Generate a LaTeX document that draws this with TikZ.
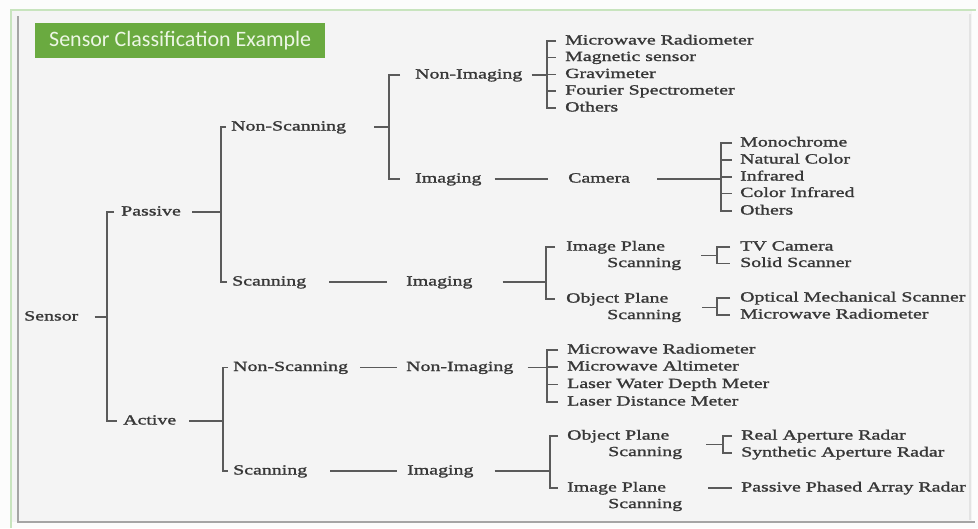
\documentclass[tikz,border=0pt]{standalone}
\usepackage{fontspec}
\setmainfont{Liberation Serif}[FakeStretch=1.42, FakeBold=1.4]
\newfontfamily\titlefont{Carlito}
\definecolor{ink}{RGB}{55,55,55}
\definecolor{wire}{RGB}{90,90,90}
\definecolor{pagebg}{RGB}{252,252,252}
\definecolor{panelbg}{RGB}{244,244,244}
\definecolor{framegreen}{RGB}{200,228,190}
\definecolor{shadowgray}{RGB}{165,165,165}
\definecolor{titlegreen}{RGB}{106,170,64}
\definecolor{titleink}{RGB}{236,246,228}
\begin{document}
\begin{tikzpicture}[x=1pt, y=-1pt,
  lbl/.style={anchor=west, inner sep=0pt, text=ink,
    font=\fontsize{14}{16.5}\selectfont, text height=9.5pt, text depth=2.5pt},
  lbltwo/.style={anchor=west, inner sep=0pt, text=ink,
    font=\fontsize{14}{16.5}\selectfont, align=left},
  conn/.style={draw=wire, line width=1.2pt},
  titlebox/.style={fill=titlegreen, text=titleink, anchor=north west,
    minimum width=290pt, minimum height=35pt, inner sep=0pt,
    font=\titlefont\fontsize{22}{24}\selectfont}]

% page, panel and frame
\useasboundingbox (0,0) rectangle (978,528);
\fill[pagebg] (0,0) rectangle (978,528);
\fill[panelbg] (12,10) rectangle (972,522);
\draw[framegreen, line width=1.2pt] (11,528) -- (11,10) -- (976,10);
\draw[shadowgray, line width=2pt] (18,16) -- (18,522) -- (975,522);
\draw[gray!22, line width=1.5pt] (970,14) -- (970,520);

% title
\node[titlebox] (title) at (35,23) {Sensor Classification Example};

% level 0 and 1
\node[lbl] (sensor)  at (24,317) {Sensor};
\node[lbl] (passive) at (121,212) {Passive};
\node[lbl] (active)  at (123,421) {Active};

% passive branch
\node[lbl] (pns) at (231,127) {Non-Scanning};
\node[lbl] (ps)  at (232,282) {Scanning};
\node[lbl] (pni) at (415,75) {Non-Imaging};
\node[lbl] (pim) at (415,179) {Imaging};
\node[lbl] (camera) at (568,179) {Camera};
\node[lbl] (nl1) at (565,41)   {Microwave Radiometer};
\node[lbl] (nl2) at (565,57.5) {Magnetic sensor};
\node[lbl] (nl3) at (565,74.5) {Gravimeter};
\node[lbl] (nl4) at (565,91)   {Fourier Spectrometer};
\node[lbl] (nl5) at (565,108)  {Others};
\node[lbl] (cl1) at (740,143) {Monochrome};
\node[lbl] (cl2) at (740,160) {Natural Color};
\node[lbl] (cl3) at (740,177) {Infrared};
\node[lbl] (cl4) at (740,193.5) {Color Infrared};
\node[lbl] (cl5) at (740,211) {Others};
\node[lbl] (psim) at (406,282) {Imaging};
\node[lbltwo] (ips) at (566,255.5) {Image Plane\\\hspace*{41pt}Scanning};
\node[lbltwo] (ops) at (566,307.5) {Object Plane\\\hspace*{41pt}Scanning};
\node[lbl] (tv)    at (740,247) {TV Camera};
\node[lbl] (solid) at (740,263.5) {Solid Scanner};
\node[lbl] (oms)   at (740,298) {Optical Mechanical Scanner};
\node[lbl] (mwr)   at (740,315) {Microwave Radiometer};

% active branch
\node[lbl] (ans) at (233,367.5) {Non-Scanning};
\node[lbl] (as)  at (233,471) {Scanning};
\node[lbl] (ani) at (406,367.5) {Non-Imaging};
\node[lbl] (aim) at (407,471) {Imaging};
\node[lbl] (al1) at (567,350) {Microwave Radiometer};
\node[lbl] (al2) at (567,367) {Microwave Altimeter};
\node[lbl] (al3) at (567,384.5) {Laser Water Depth Meter};
\node[lbl] (al4) at (567,402) {Laser Distance Meter};
\node[lbltwo] (aop) at (567,444.5) {Object Plane\\\hspace*{41pt}Scanning};
\node[lbltwo] (aip) at (567,496.5) {Image Plane\\\hspace*{41pt}Scanning};
\node[lbl] (rar)  at (741,436) {Real Aperture Radar};
\node[lbl] (sar)  at (741,453) {Synthetic Aperture Radar};
\node[lbl] (ppar) at (741,488) {Passive Phased Array Radar};

% bracket spines
\coordinate (s0)  at (107,317);
\coordinate (s1)  at (221,212);
\coordinate (s2)  at (223,421);
\coordinate (s3)  at (389,127);
\coordinate (s4)  at (547,75);
\coordinate (s5)  at (721,177);
\coordinate (s6)  at (546,281);
\coordinate (s7)  at (717,255);
\coordinate (s8)  at (717,307);
\coordinate (s9)  at (547,368);
\coordinate (s10) at (550,470);
\coordinate (s11) at (723,444);

% Sensor
\draw[conn] ([xshift=16pt]sensor.east) -- (sensor.east -| s0);
\draw[conn] ([xshift=-7pt]passive.west) -| (s0) |- ([xshift=-6pt]active.west);

% Passive
\draw[conn] ([xshift=11pt]passive.east) -- (passive.east -| s1);
\draw[conn] ([xshift=-5pt]pns.west) -| (s1) |- ([xshift=-5pt]ps.west);

\draw[conn] ([xshift=28pt]pns.east) -- (pns.east -| s3);
\draw[conn] ([xshift=-15pt]pni.west) -| (s3) |- ([xshift=-15pt]pim.west);

\draw[conn] ([xshift=9pt]pni.east) -- (pni.east -| s4);
\draw[conn] ([xshift=-9pt]nl1.west) -| (s4) |- ([xshift=-9pt]nl5.west);
\foreach \n in {nl2,nl3,nl4}
  \draw[conn] (s4 |- \n.west) -- ([xshift=-9pt]\n.west);

\draw[conn] ([xshift=13pt]pim.east) -- ([xshift=-20pt]camera.west);
\draw[conn] ([xshift=27pt]camera.east) -- (camera.east -| s5);
\draw[conn] ([xshift=-8pt]cl1.west) -| (s5) |- ([xshift=-8pt]cl5.west);
\foreach \n in {cl2,cl3,cl4}
  \draw[conn] (s5 |- \n.west) -- ([xshift=-8pt]\n.west);

\draw[conn] ([xshift=23pt]ps.east) -- ([xshift=-19pt]psim.west);
\draw[conn] ([xshift=30pt]psim.east) -- (psim.east -| s6);
\draw[conn] ([xshift=-11pt,yshift=8.5pt]ips.west) -| (s6) |- ([xshift=-11pt,yshift=8.5pt]ops.west);

\draw[conn] ([xshift=20pt]ips.east) -- (ips.east -| s7);
\draw[conn] ([xshift=-10pt]tv.west) -| (s7) |- ([xshift=-10pt]solid.west);
\draw[conn] ([xshift=21pt]ops.east) -- (ops.east -| s8);
\draw[conn] ([xshift=-10pt]oms.west) -| (s8) |- ([xshift=-10pt]mwr.west);

% Active
\draw[conn] ([xshift=13pt]active.east) -- (active.east -| s2);
\draw[conn] ([xshift=-5pt]ans.west) -| (s2) |- ([xshift=-5pt]as.west);

\draw[conn] ([xshift=12pt]ans.east) -- ([xshift=-9pt]ani.west);
\draw[conn] ([xshift=14pt]ani.east) -- (ani.east -| s9);
\draw[conn] ([xshift=-9pt]al1.west) -| (s9) |- ([xshift=-9pt]al4.west);
\foreach \n in {al2,al3}
  \draw[conn] (s9 |- \n.west) -- ([xshift=-9pt]\n.west);

\draw[conn] ([xshift=23pt]as.east) -- ([xshift=-10pt]aim.west);
\draw[conn] ([xshift=21pt]aim.east) -- (aim.east -| s10);
\draw[conn] ([xshift=-9pt,yshift=8.5pt]aop.west) -| (s10) |- ([xshift=-9pt,yshift=8.5pt]aip.west);

\draw[conn] ([xshift=24pt]aop.east) -- (aop.east -| s11);
\draw[conn] ([xshift=-9pt]rar.west) -| (s11) |- ([xshift=-9pt]sar.west);
\draw[conn] ([xshift=26pt,yshift=8.5pt]aip.east) -- ([xshift=-9pt]ppar.west);
\end{tikzpicture}
\end{document}
